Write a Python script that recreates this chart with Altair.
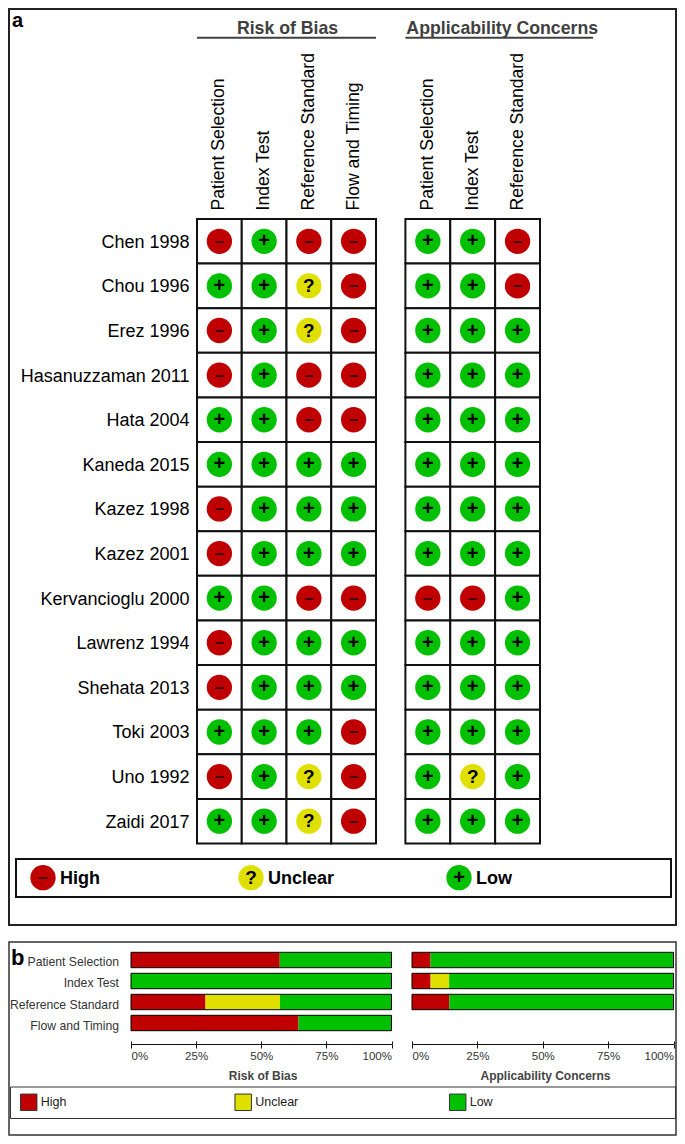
import altair as alt
import pandas as pd

# ---- data ----
STUDIES = ["Chen 1998", "Chou 1996", "Erez 1996", "Hasanuzzaman 2011", "Hata 2004",
           "Kaneda 2015", "Kazez 1998", "Kazez 2001", "Kervancioglu 2000", "Lawrenz 1994",
           "Shehata 2013", "Toki 2003", "Uno 1992", "Zaidi 2017"]
ROB_DOMAINS = ["Patient Selection", "Index Test", "Reference Standard", "Flow and Timing"]
APP_DOMAINS = ["Patient Selection", "Index Test", "Reference Standard"]
ROB_PATIENT = list("-+--+" "+--+-" "-+-+")
ROB_INDEX = list("+++++" "+++++" "++++")
ROB_REFERENCE = list("-??--" "+++-+" "++??")
ROB_FLOW = list("-----" "+++-+" "+---")
APP_PATIENT = list("+++++" "+++-+" "++++")
APP_INDEX = list("+++++" "+++-+" "++?+")
APP_REFERENCE = list("--+++" "+++++" "++++")
LEVELS = ["High", "Unclear", "Low"]
SYMBOLS = {"High": "\u2013", "Unclear": "?", "Low": "+"}
COLORS = ["#C00000", "#E0E000", "#00C000"]
CODE = {"-": "High", "?": "Unclear", "+": "Low"}

ROB_HIGH = [57.1, 0, 28.6, 64.3]
ROB_UNCLEAR = [0, 0, 28.6, 0]
ROB_LOW = [42.9, 100, 42.8, 35.7]
APP_HIGH = [7.1, 7.1, 14.3]
APP_UNCLEAR = [0, 7.1, 0]
APP_LOW = [92.9, 85.8, 85.7]
PCT_TICKS = [0, 25, 50, 75, 100]

FONT = "Liberation Sans"
W, H = 669, 1128
CIRCLE = 640
X = lambda v: v - 8
Y = lambda v: v - 8

def grid_df(domains, cols):
    rows = []
    for d, col in zip(domains, cols):
        for s, c in zip(STUDIES, col):
            rows.append({"study": s, "domain": d, "level": CODE[c], "sym": SYMBOLS[CODE[c]]})
    return pd.DataFrame(rows)

def color_enc(field="level"):
    return alt.Color(f"{field}:N", scale=alt.Scale(domain=LEVELS, range=COLORS), legend=None)

def glyphs(base, x_in, y_in):
    plus = base.transform_filter("datum.level == 'Low'").mark_text(
        font=FONT, fontWeight="bold", fontSize=20).encode(x=x_in, y=y_in, text="sym:N", color=alt.value("#000"))
    minus = base.transform_filter("datum.level == 'High'").mark_text(
        font=FONT, fontWeight="bold", fontSize=17, dy=0.5).encode(x=x_in, y=y_in, text="sym:N", color=alt.value("#3a0000"))
    quest = base.transform_filter("datum.level == 'Unclear'").mark_text(
        font=FONT, fontWeight="bold", fontSize=19).encode(x=x_in, y=y_in, text="sym:N", color=alt.value("#000"))
    return [plus, minus, quest]

def grid(df, domains, x0, x1, title, title_x, show_y):
    y0, y1 = 219, 843.5
    xs = alt.Scale(domain=domains, range=[X(x0), X(x1)], paddingInner=0, paddingOuter=0)
    ys = alt.Scale(domain=STUDIES, range=[Y(y0), Y(y1)], paddingInner=0, paddingOuter=0)
    top = alt.Axis(orient="top", offset=-Y(y0), labelAngle=-90, labelAlign="left", labelBaseline="middle",
                   labelPadding=9, labelFontSize=17.6, labelFont=FONT, labelColor="#000", ticks=False, domain=False,
                   title=title, titleX=X(title_x), titleY=28.5 - y0, titleFont=FONT, titleFontSize=17.7,
                   titleFontWeight="bold", titleColor="#404040", titleBaseline="middle", grid=False, labelOverlap=False)
    left = alt.Axis(orient="left", offset=-X(x0), labelPadding=8, labelFontSize=18, labelFont=FONT, labelColor="#000",
                    labelOffset=1.5, ticks=False, domain=False, title=None, grid=False, labelOverlap=False) if show_y else None
    base = alt.Chart(df)
    cells = base.mark_rect(fill="white", stroke="#111", strokeWidth=2).encode(
        x=alt.X("domain:N", scale=xs, axis=top),
        y=alt.Y("study:N", scale=ys, axis=left))
    x_in = alt.X("domain:N", scale=xs, axis=None)
    y_in = alt.Y("study:N", scale=ys, axis=None)
    dots = base.mark_point(filled=True, size=CIRCLE, opacity=1).encode(x=x_in, y=y_in, color=color_enc())
    return [cells, dots] + glyphs(base, x_in, y_in)

def bars(domains, high, unclear, low, x0, x1, y0, y1, title, title_x, show_y):
    rows = []
    for i, d in enumerate(domains):
        for lev, v in zip(LEVELS, (high[i], unclear[i], low[i])):
            rows.append({"domain": d, "level": lev, "value": v, "order": LEVELS.index(lev)})
    df = pd.DataFrame(rows)
    xs = alt.Scale(domain=[0, 100], range=[X(x0), X(x1)], nice=False)
    ys = alt.Scale(domain=domains, range=[Y(y0), Y(y1)], paddingInner=0.267, paddingOuter=0)
    axis_y = Y(1044)
    bottom = alt.Axis(orient="bottom", offset=axis_y - H, values=PCT_TICKS, format="d",
                      labelExpr="datum.value + '%'", labelFlush=True, tickSize=4, tickColor="#111",
                      domainColor="#111", labelFont=FONT, labelFontSize=11.5, labelColor="#333", labelPadding=2,
                      title=title, titleX=X(title_x), titleY=1075 - 1044, titleFont=FONT, titleFontSize=12,
                      titleFontWeight="bold", titleColor="#444", titleBaseline="middle", grid=False)
    up = alt.Axis(orient="top", offset=-axis_y, values=PCT_TICKS, labels=False, tickSize=3, tickColor="#111",
                  domain=False, title=None, grid=False)
    left = alt.Axis(orient="left", offset=-X(x0), labelPadding=12.5, labelFontSize=12.2, labelFont=FONT, labelColor="#333",
                    labelOffset=2.5, ticks=False, domain=False, title=None, grid=False, labelOverlap=False) if show_y else None
    stacked = alt.Chart(df).mark_bar(stroke=None).encode(
        x=alt.X("value:Q", stack="zero", scale=xs, axis=bottom),
        y=alt.Y("domain:N", scale=ys, axis=left),
        color=color_enc(), order="order:Q")
    outline_df = pd.DataFrame({"domain": domains, "total": [100] * len(domains)})
    outline = alt.Chart(outline_df).mark_bar(fillOpacity=0, stroke="#000", strokeWidth=1).encode(
        x=alt.X("total:Q", scale=xs, axis=up),
        y=alt.Y("domain:N", scale=ys, axis=None))
    return [stacked, outline]

blank = alt.Chart(alt.Data(values=[{}]))

def frame(x0, x1, y0, y1, stroke, w):
    return blank.mark_rect(fillOpacity=0, stroke=stroke, strokeWidth=w).encode(
        x=alt.value(X(x0)), x2=alt.value(X(x1)), y=alt.value(Y(y0)), y2=alt.value(Y(y1)))

def rule(x0, x1, y):
    return blank.mark_rule(color="#404040", strokeWidth=2).encode(
        x=alt.value(X(x0)), x2=alt.value(X(x1)), y=alt.value(Y(y)))

def tag(txt, x, y, size):
    return blank.mark_text(text=txt, font=FONT, fontWeight="bold", fontSize=size, color="#000", align="left",
                           baseline="middle").encode(x=alt.value(X(x)), y=alt.value(Y(y)))

# legends
lg = pd.DataFrame({"level": LEVELS, "sym": [SYMBOLS[l] for l in LEVELS]})
xa = alt.Scale(type="point", domain=LEVELS, range=[X(43), X(459)], padding=0)
xb = alt.Scale(type="point", domain=LEVELS, range=[X(28.7), X(457.7)], padding=0)
la_x = alt.X("level:N", scale=xa, axis=None)
lb_x = alt.X("level:N", scale=xb, axis=None)
ya = alt.value(Y(877.7))
yb = alt.value(Y(1102.3))
leg_a = [
    frame(16, 671, 859, 897, "#111", 2),
    alt.Chart(lg).mark_point(filled=True, size=CIRCLE, opacity=1).encode(x=la_x, y=ya, color=color_enc()),
] + glyphs(alt.Chart(lg), la_x, ya) + [
    alt.Chart(lg).mark_text(font=FONT, fontWeight="bold", fontSize=18, color="#000", align="left", dx=17, dy=1).encode(x=la_x, y=ya, text="level:N"),
]
leg_b = [
    frame(10.5, 675.5, 1087, 1118.5, "#333", 1),
    alt.Chart(lg).mark_point(filled=True, shape="square", size=272, opacity=1, stroke="#333", strokeWidth=1).encode(
        x=lb_x, y=yb, color=color_enc()),
    alt.Chart(lg).mark_text(font=FONT, fontSize=12.5, color="#222", align="left", dx=12).encode(x=lb_x, y=yb, text="level:N"),
]

layers = [frame(9, 676, 9, 925, "#222", 2), frame(9, 676, 942, 1135, "#333", 1.5), tag("a", 12, 21, 20), tag("b", 11, 958, 22)]
layers += [rule(197, 376, 37.7), rule(405.4, 593, 37.7)]
layers += grid(grid_df(ROB_DOMAINS, [ROB_PATIENT, ROB_INDEX, ROB_REFERENCE, ROB_FLOW]), ROB_DOMAINS, 197, 376, "Risk of Bias", 287, True)
layers += grid(grid_df(APP_DOMAINS, [APP_PATIENT, APP_INDEX, APP_REFERENCE]), APP_DOMAINS, 405.4, 540, "Applicability Concerns", 501.7, False)
layers += leg_a
layers += bars(ROB_DOMAINS, ROB_HIGH, ROB_UNCLEAR, ROB_LOW, 131, 391.5, 952.3, 1030.7, "Risk of Bias", 262.6, True)
layers += bars(APP_DOMAINS, APP_HIGH, APP_UNCLEAR, APP_LOW, 412, 673.5, 952.3, 1009.7, "Applicability Concerns", 545, False)
layers += leg_b

chart = alt.layer(*layers).resolve_scale(x="independent", y="independent", color="independent").resolve_axis(
    x="independent", y="independent"
).properties(
    width=W, height=H, padding=0, autosize=alt.AutoSizeParams(type="none"), background="white"
).configure_view(stroke=None)

chart.save("out.html", embed_options={"renderer": "svg", "actions": False})
